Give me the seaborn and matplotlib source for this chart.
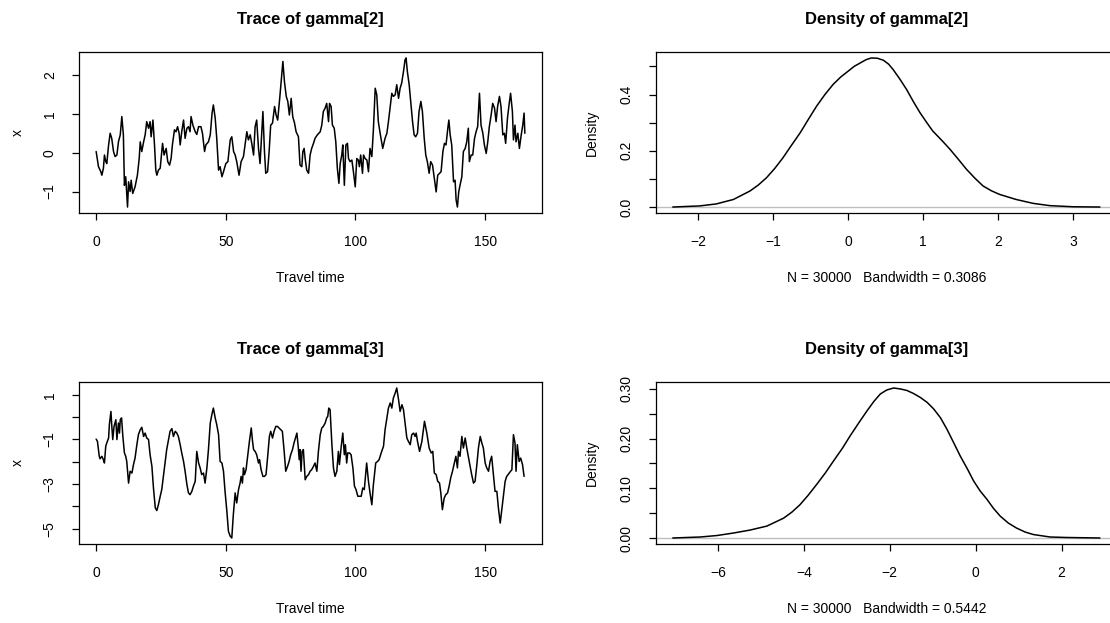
import numpy as np
import pandas as pd
import matplotlib
matplotlib.use("Agg")
import matplotlib.pyplot as plt
import seaborn as sns

# trace of gamma[2]
g2_time = [
    0, 0.9, 1.8, 2.2, 2.8, 3.2, 3.7, 4.1, 4.8, 5.4,
    6.0, 6.7, 7.3, 8.0, 8.6, 9.3, 9.9, 10.5, 10.9, 11.4,
    12.1, 12.5, 13.1, 13.5, 14.1, 15.0, 15.9, 16.6, 17.0, 17.6,
    18.3, 18.9, 19.5, 20.2, 20.8, 21.2, 21.9, 22.5, 23.0, 23.4,
    24.0, 24.7, 25.6, 26.2, 27.0, 27.6, 28.3, 28.9, 29.4, 30.2,
    30.8, 31.4, 32.0, 32.4, 33.0, 33.7, 34.3, 35.0, 35.6, 36.2,
    36.6, 37.3, 38.2, 38.8, 39.5, 40.4, 41.0, 41.8, 42.3, 43.3,
    44.0, 44.7, 45.2, 45.9, 46.5, 47.2, 47.8, 48.5, 49.1, 50.0,
    50.8,
    51.7, 52.3, 53.0, 53.6, 54.2, 55.1, 55.9, 56.8, 57.4, 58.1,
    58.7, 59.4, 60.0, 60.7, 61.3, 61.9, 62.6, 63.2, 63.6, 64.3,
    64.9, 65.4, 66.1, 66.7, 67.3, 68.0, 68.8, 69.4, 70.0, 70.9,
    72.0, 72.6, 73.3, 73.9, 74.5, 75.2, 75.8, 76.5, 77.1, 78.0,
    78.6, 79.3, 79.7, 80.2, 80.6, 81.2, 81.9, 82.5, 83.1, 83.8,
    84.4, 85.3, 86.4, 87.0, 87.6, 88.3, 88.9, 89.6, 90.0, 90.6,
    91.1, 91.8, 92.4, 93.0, 93.6, 94.1, 94.7, 95.1, 95.7, 96.3,
    96.9, 97.3, 97.9, 98.6, 99.2, 99.9, 100.5, 101.1, 101.5, 102.0,
    102.7, 103.1, 103.7, 104.4, 105.0, 105.6, 106.3, 106.9, 107.6, 108.2,
    108.8,
    109.5, 110.5, 111.4, 112.1, 112.7, 113.4, 114.0, 114.6, 115.3, 115.9,
    116.6, 117.2, 117.8, 118.5, 119.1, 119.5, 120.0, 120.7, 121.3, 122.0,
    122.6, 123.2, 123.9, 124.5, 125.2, 125.8, 126.5, 127.1, 127.7, 128.4,
    129.0, 129.7, 130.3, 131.1, 131.7, 132.4, 133.0, 133.7, 134.3, 134.9,
    135.6, 136.0, 136.5, 137.1, 137.8, 138.4, 138.8, 139.3, 139.8, 140.3,
    141.0, 141.6, 142.3, 142.9, 143.5, 143.9, 144.6, 145.2, 145.9, 146.5,
    147.1, 147.8, 148.4, 149.1, 149.7, 150.4, 151.0, 151.6, 152.3, 152.9,
    153.6, 154.2, 154.8, 155.5, 156.1, 156.8, 157.4, 157.9, 158.6, 159.2,
    159.8, 160.5, 160.9, 161.5, 161.9, 162.6, 163.2, 163.9, 164.5, 165.0,
    165.3,
]
g2_value = [
    0.03, -0.36, -0.49, -0.58, -0.4, -0.06, -0.23, -0.28, 0.2, 0.5,
    0.37, 0.03, -0.1, -0.06, 0.28, 0.46, 0.93, 0.46, -0.84, -0.62,
    -1.40, -0.75, -1.0, -0.71, -1.05, -0.88, -0.58, -0.15, 0.28, 0.03,
    0.28, 0.46, 0.8, 0.63, 0.8, 0.41, 0.84, 0.2, -0.45, -0.58,
    -0.45, -0.4, 0.24, -0.06, 0.11, -0.23, -0.32, -0.15, 0.2, 0.59,
    0.54, 0.67, 0.5, 0.2, 0.54, 0.84, 0.37, 0.63, 0.67, 0.54,
    0.93, 0.71, 0.54, 0.47, 0.67, 0.67, 0.5, 0.03, 0.2, 0.28,
    0.46, 1.02, 1.23, 0.89, 0.37, -0.45, -0.36, -0.62, -0.49, -0.28,
    -0.23,
    0.33, 0.41, 0.03, -0.06, -0.23, -0.58, -0.23, -0.1, 0.2, 0.54,
    0.33, 0.46, 0.24, -0.06, 0.67, 0.84, 0.11, -0.28, 0.2, 1.06,
    0.03, -0.53, -0.49, 0.03, 0.71, 0.76, 1.19, 0.97, 0.84, 1.49,
    2.35, 1.83, 1.45, 1.32, 0.97, 1.40, 0.93, 0.76, 0.54, 0.41,
    -0.32, -0.36, 0.03, 0.11, -0.15, -0.45, -0.53, -0.06, 0.11, 0.24,
    0.37, 0.46, 0.54, 0.71, 1.06, 1.15, 1.27, 0.8, 1.27, 1.19,
    0.71, 0.63, 0.28, -0.4, -0.79, -0.28, -0.06, 0.2, -0.84, 0.2,
    0.24, -0.15, -0.23, -0.19, -0.49, -0.88, -0.15, -0.19, -0.36, -0.06,
    -0.53, -0.06, -0.15, -0.19, -0.49, 0.11, -0.1, 0.59, 1.66, 1.49,
    0.8,
    0.5, 0.11, 0.37, 0.5, 0.8, 1.19, 1.53, 1.45, 1.49, 1.75,
    1.40, 1.66, 1.79, 2.09, 2.39, 2.44, 2.09, 1.75, 1.32, 0.8,
    0.46, 0.41, 0.5, 1.06, 1.32, 1.06, 0.37, -0.06, -0.23, -0.53,
    -0.23, -0.32, -0.62, -1.01, -0.58, -0.53, -0.49, 0.03, 0.24, 0.2,
    0.63, 0.84, 0.46, 0.2, -0.75, -0.71, -1.22, -1.40, -1.01, -0.84,
    -0.62, 0.03, 0.11, 0.28, 0.63, -0.23, -0.06, -0.06, 0.37, 0.54,
    0.67, 1.53, 0.71, 0.5, 0.2, -0.02, 0.28, 0.67, 0.97, 1.27,
    1.15, 0.8, 1.19, 1.45, 1.19, 0.46, 0.5, 0.24, 0.89, 1.23,
    1.53, 1.06, 0.33, 0.71, 0.28, 0.5, 0.11, 0.46, 0.71, 1.02,
    0.5,
]

# trace of gamma[3]
g3_time = [
    0, 0.5, 1.2, 1.5, 2.2, 2.8, 3.2, 3.7, 4.1, 4.8,
    5.1, 5.7, 6.0, 6.4, 6.9, 7.6, 8.0, 8.6, 9.0, 9.3,
    9.8, 10.3, 10.9, 11.4, 11.8, 12.5, 13.1, 13.8, 14.4, 15.0,
    15.7, 16.3, 17.0, 17.6, 18.3, 18.9, 19.5, 20.2, 20.8, 21.5,
    22.1, 22.8, 23.4, 24.0, 24.7, 25.3, 26.0, 26.6, 27.2, 27.9,
    28.5, 29.2, 29.8, 30.5, 31.1, 31.7, 32.4, 33.0, 33.7, 34.3,
    35.0, 35.6, 36.2, 36.9, 37.5, 38.2, 38.8, 39.5, 40.1, 40.7,
    41.4, 42.0, 42.7, 43.3, 44.0, 44.6, 45.2, 45.9, 46.5, 47.2,
    47.8, 48.5, 49.1, 49.7, 50.4, 51.0,
    51.7, 52.3, 52.9, 53.6, 54.2, 54.9, 55.5, 55.9, 56.4, 56.8,
    57.2, 57.8, 58.5, 59.1, 59.8, 60.3, 60.7, 61.3, 61.9, 62.6,
    63.0, 63.6, 64.3, 64.9, 65.5, 66.2, 66.8, 67.3, 68.0, 68.6,
    69.3, 69.9, 70.5, 71.2, 71.8, 72.5, 73.1, 73.8, 74.4, 75.0,
    75.7, 76.3, 77.0, 77.4, 77.9, 78.3, 78.6, 79.0, 79.4, 79.9,
    80.6, 81.2, 81.9, 82.5, 83.1, 83.8, 84.4, 85.1, 85.7, 86.4,
    87.0, 87.6, 88.3, 88.9, 89.3, 89.7, 90.2, 90.9, 91.5, 92.1,
    92.8, 93.4, 93.8, 94.5, 95.1, 95.7, 96.1, 96.6, 97.0, 97.7,
    98.3, 99.0, 99.6, 100.2, 100.9, 101.5, 102.2, 102.8, 103.4, 104.3,
    105.0, 105.6, 106.3, 106.9, 107.8, 108.5, 109.1,
    110.1, 110.8, 111.4, 112.1, 112.7, 113.4, 114.0, 114.6, 115.3, 115.9,
    116.6, 117.2, 117.9, 118.5, 119.1, 119.8, 120.4, 121.1, 121.7, 122.4,
    123.0, 123.4, 123.9, 124.7, 125.6, 126.6, 127.5, 128.4, 129.2, 129.8,
    130.4, 131.1, 131.7, 132.4, 132.9, 133.5, 134.2, 134.8, 135.5, 136.1,
    136.7, 137.4, 138.0, 138.7, 139.3, 139.7, 140.3, 141.0, 141.6, 142.3,
    142.9, 143.6, 144.2, 144.8, 145.5, 146.1, 146.8, 147.4, 148.1, 148.7,
    149.3, 150.0, 150.6, 151.3, 151.9, 152.5, 153.2, 153.8, 154.5, 155.1,
    155.8, 156.4, 157.0, 157.7, 158.3, 159.0, 159.6, 160.3, 160.9, 161.5,
    161.9, 162.4, 163.1, 163.7, 164.4, 165.0,
]
g3_value = [
    -0.99, -1.09, -1.76, -1.87, -1.76, -1.91, -2.06, -1.31, -1.16, -0.94,
    -0.34, 0.25, -0.34, -1.01, -0.42, -0.12, -1.01, -0.27, -0.72, -0.12,
    -0.04, -0.87, -1.61, -1.76, -1.99, -2.96, -2.43, -2.51, -2.13, -1.84,
    -1.24, -0.79, -0.57, -0.46, -0.87, -0.72, -0.94, -1.01, -1.69, -2.21,
    -3.18, -4.07, -4.19, -3.93, -3.55, -3.25, -2.58, -1.99, -1.46, -1.01,
    -0.64, -0.52, -0.87, -0.64, -0.72, -0.87, -1.24, -1.61, -1.99, -2.43,
    -3.03, -3.40, -3.48, -3.33, -3.10, -2.88, -1.54, -2.06, -2.28, -2.58,
    -2.51, -2.96, -2.28, -1.46, -0.27, 0.10, 0.40, -0.04, -0.34, -0.79,
    -1.99, -2.06, -2.43, -3.33, -4.22, -5.12,
    -5.34, -5.42, -4.37, -3.40, -3.85, -3.25, -2.96, -2.66, -2.96, -2.28,
    -2.58, -2.36, -1.69, -1.09, -0.49, -1.09, -1.46, -1.54, -1.69, -2.06,
    -1.91, -2.36, -2.66, -2.66, -2.58, -1.69, -0.87, -0.64, -0.94, -0.64,
    -0.42, -0.42, -0.49, -0.57, -0.64, -1.54, -2.43, -2.21, -1.99, -1.69,
    -1.46, -1.16, -0.87, -0.72, -1.31, -1.91, -1.46, -2.43, -1.54, -1.46,
    -2.81, -2.66, -2.58, -2.43, -2.36, -2.21, -2.06, -2.43, -1.54, -0.79,
    -0.49, -0.42, -0.27, -0.04, 0.03, 0.40, 0.33, -1.24, -2.28, -2.66,
    -2.43, -1.54, -2.13, -1.31, -0.72, -1.69, -1.24, -2.06, -1.61, -1.61,
    -1.69, -2.28, -3.10, -3.25, -3.55, -3.55, -3.55, -3.18, -3.25, -2.06,
    -2.88, -3.40, -3.93, -3.03, -2.06, -1.99, -1.91,
    -1.54, -1.31, -0.57, -0.04, 0.40, 0.63, 0.40, 0.85, 1.07, 1.30,
    0.78, 0.25, 0.55, 0.33, -0.27, -0.94, -1.09, -1.24, -0.79, -0.72,
    -0.87, -0.72, -1.09, -1.54, -1.09, -0.19, -0.72, -1.39, -1.61, -1.54,
    -2.51, -2.58, -2.88, -2.96, -3.40, -4.15, -3.63, -3.48, -3.40, -3.10,
    -2.73, -2.43, -2.13, -1.76, -2.28, -1.54, -1.76, -0.87, -1.39, -0.94,
    -1.39, -1.84, -2.21, -2.58, -2.96, -2.88, -2.13, -1.39, -0.87, -1.16,
    -1.39, -2.06, -2.28, -2.43, -1.99, -1.76, -2.58, -3.33, -3.33, -4.07,
    -4.75, -4.15, -3.55, -2.88, -2.66, -2.55, -2.46, -2.36, -0.79, -1.16,
    -2.43, -1.24, -1.99, -1.84, -2.13, -2.66,
]

# density curves
d2_x = [-2.34, -1.98, -1.76, -1.53, -1.31, -1.20, -1.09, -0.98, -0.87, -0.76,
        -0.64, -0.53, -0.42, -0.31, -0.2, -0.1, 0.0, 0.08, 0.16, 0.24,
        0.31, 0.39, 0.47, 0.54, 0.6, 0.69, 0.78, 0.87, 0.96, 1.05,
        1.13, 1.25, 1.36, 1.47, 1.58, 1.69, 1.8, 1.91, 2.02, 2.24,
        2.47, 2.69, 3.0, 3.36]
d2_y = [0.0, 0.004, 0.011, 0.027, 0.057, 0.078, 0.104, 0.137, 0.175, 0.218,
        0.264, 0.312, 0.359, 0.400, 0.436, 0.462, 0.483, 0.500, 0.512, 0.524,
        0.530, 0.529, 0.522, 0.508, 0.489, 0.455, 0.418, 0.375, 0.335, 0.300,
        0.270, 0.237, 0.205, 0.170, 0.134, 0.103, 0.075, 0.058, 0.045, 0.027,
        0.013, 0.005, 0.001, 0.0]
d3_x = [-7.05, -6.41, -6.02, -5.64, -5.25, -4.86, -4.47, -4.28, -4.09, -3.90,
        -3.70, -3.50, -3.31, -3.10, -2.92, -2.72, -2.53, -2.37, -2.22, -2.07,
        -1.91, -1.75, -1.60, -1.45, -1.29, -1.13, -0.98, -0.82, -0.67, -0.52,
        -0.36, -0.2, -0.05, 0.1, 0.26, 0.41, 0.57, 0.76, 0.95, 1.15,
        1.34, 1.73, 2.12, 2.89]
d3_y = [0.0, 0.002, 0.005, 0.010, 0.016, 0.024, 0.040, 0.052, 0.067, 0.086,
        0.108, 0.131, 0.155, 0.181, 0.206, 0.232, 0.256, 0.275, 0.290, 0.298,
        0.302, 0.300, 0.297, 0.291, 0.283, 0.273, 0.260, 0.242, 0.219, 0.193,
        0.165, 0.140, 0.115, 0.095, 0.078, 0.060, 0.044, 0.030, 0.020, 0.012,
        0.007, 0.002, 0.001, 0.0]

names = ["gamma[2]", "gamma[3]"]
bandwidths = ["0.3086", "0.5442"]
n_samples = 30000

trace_yticks = [[2, 1, 0, -1], [1, 0, -1, -2, -3, -4, -5]]
trace_ylabels = [["2", "1", "0", "\u22121"], ["1", "", "\u22121", "", "\u22123", "", "\u22125"]]
dens_xticks = [[-2, -1, 0, 1, 2, 3], [-6, -4, -2, 0, 2]]
dens_yticks = [[0.0, 0.1, 0.2, 0.3, 0.4, 0.5],
               [0.0, 0.05, 0.10, 0.15, 0.20, 0.25, 0.30]]
dens_ylabels = [["0.0", "", "0.2", "", "0.4", ""],
                ["0.00", "", "0.10", "", "0.20", "", "0.30"]]

sns.set_style("ticks")
plt.rcParams["font.family"] = ["Liberation Sans", "DejaVu Sans"]
plt.rcParams.update({
    "axes.edgecolor": "black",
    "axes.linewidth": 0.9,
    "xtick.color": "black",
    "ytick.color": "black",
    "text.color": "black",
    "axes.labelcolor": "black",
    "xtick.major.size": 5,
    "ytick.major.size": 5,
    "xtick.major.width": 0.9,
    "ytick.major.width": 0.9,
    "xtick.major.pad": 11,
    "ytick.major.pad": 11,
})


def r_limits(values):
    lo, hi = min(values), max(values)
    ext = 0.04 * (hi - lo)
    return lo - ext, hi + ext


W, H = 1110, 623
fig = plt.figure(figsize=(W / 100, H / 100), dpi=100)

# panel rows in pixels: top, bottom
rows = [(52, 213), (382, 544)]
traces = [(g2_time, g2_value), (g3_time, g3_value)]
dens = [(d2_x, d2_y), (d3_x, d3_y)]

all_time = g2_time + g3_time

for i in range(2):
    top, bottom = rows[i]

    # trace panel
    ax = fig.add_axes([79 / W, 1 - bottom / H, (542 - 79) / W, (bottom - top) / H])
    t, v = traces[i]
    df = pd.DataFrame({"time": t, "value": v})
    sns.lineplot(data=df, x="time", y="value", ax=ax, color="black",
                 linewidth=1.1, estimator=None, sort=False)
    ax.set_xlim(r_limits(all_time))
    ax.set_ylim(r_limits(v))
    ax.set_xticks([0, 50, 100, 150])
    ax.set_xticklabels(["0", "50", "100", "150"], fontsize=10)
    ax.set_yticks(trace_yticks[i])
    ax.set_yticklabels(trace_ylabels[i], fontsize=10, rotation=90, va="center")
    ax.set_title(f"Trace of {names[i]}", fontsize=12, fontweight="bold", pad=20)
    ax.set_xlabel("Travel time", fontsize=10)
    ax.set_ylabel("x", fontsize=10)
    ax.xaxis.set_label_coords(0.5, -0.36)
    ax.yaxis.set_label_coords(-0.118, 0.5)

    # density panel
    ax = fig.add_axes([655.7 / W, 1 - bottom / H, (1117 - 655.7) / W, (bottom - top) / H])
    dx, dy = dens[i]
    ax.axhline(0, color="#BEBEBE", linewidth=1.0)
    sns.lineplot(x=dx, y=dy, ax=ax, color="black", linewidth=1.1,
                 estimator=None, sort=False)
    ax.set_xlim(r_limits(dx))
    ax.set_ylim(r_limits(dy))
    ax.set_xticks(dens_xticks[i])
    ax.set_xticklabels([str(x).replace("-", "\u2212") for x in dens_xticks[i]], fontsize=10)
    ax.set_yticks(dens_yticks[i])
    ax.set_yticklabels(dens_ylabels[i], fontsize=10, rotation=90, va="center")
    ax.set_title(f"Density of {names[i]}", fontsize=12, fontweight="bold", pad=20)
    ax.set_xlabel(f"N = {n_samples}   Bandwidth = {bandwidths[i]}", fontsize=10)
    ax.set_ylabel("Density", fontsize=10)
    ax.xaxis.set_label_coords(0.5, -0.36)
    ax.yaxis.set_label_coords(-0.123, 0.5)

fig.savefig("out.png", dpi=100)
